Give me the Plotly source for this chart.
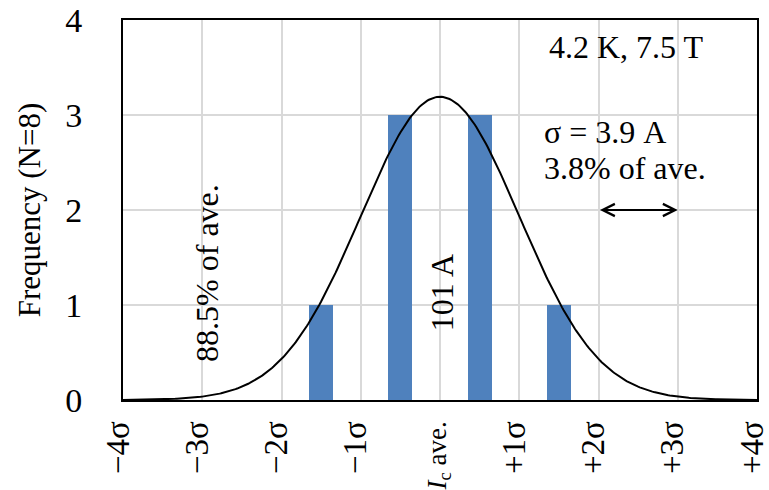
import numpy as np
import plotly.graph_objects as go

# Histogram of Ic, binned in units of sigma around the average
bin_centers = [-1.5, -0.5, 0.5, 1.5]
counts = [1, 3, 3, 1]
n_samples = 8
bin_width_sigma = 1.0

tick_vals = [-4, -3, -2, -1, 0, 1, 2, 3, 4]
tick_text = ["\u22124\u03c3", "\u22123\u03c3", "\u22122\u03c3", "\u22121\u03c3",
             "<span style='font-size:27px'><i>I</i><sub>c</sub> ave.</span>",
             "+1\u03c3", "+2\u03c3", "+3\u03c3", "+4\u03c3"]

# Fitted normal distribution (mean 0, sd 1 in sigma units), scaled to counts
x_fit = np.linspace(-4, 4, 401)
y_fit = n_samples * bin_width_sigma / np.sqrt(2 * np.pi) * np.exp(-0.5 * x_fit ** 2)

FONT = "Liberation Serif, Times New Roman, serif"
BLUE = "#4F81BD"

fig = go.Figure()
fig.add_trace(go.Bar(x=bin_centers, y=counts, width=0.3, marker_color=BLUE,
                     marker_line_width=0, showlegend=False))
fig.add_trace(go.Scatter(x=x_fit, y=y_fit, mode="lines",
                         line=dict(color="black", width=2), showlegend=False))

ann_font = dict(family=FONT, size=32, color="black")
annotations = [
    dict(x=1.35, y=3.72, text="4.2 K, 7.5 T", xanchor="left", yanchor="middle",
         showarrow=False, font=ann_font),
    dict(x=1.29, y=2.82, text="\u03c3 = 3.9 A", xanchor="left", yanchor="middle",
         showarrow=False, font=ann_font),
    dict(x=1.29, y=2.44, text="3.8% of ave.", xanchor="left", yanchor="middle",
         showarrow=False, font=ann_font),
    dict(x=-2.95, y=1.34, text="88.5% of ave.", textangle=-90, showarrow=False,
         font=ann_font),
    dict(x=0.02, y=1.13, text="101 A", textangle=-90, showarrow=False, font=ann_font),
    # one-sigma width marker
    dict(x=3, y=2, ax=2, ay=2, xref="x", yref="y", axref="x", ayref="y", text="",
         showarrow=True, arrowside="end+start", arrowhead=5, startarrowhead=5,
         arrowsize=1.2, startarrowsize=1.2, arrowwidth=2, arrowcolor="black",
         standoff=0, startstandoff=0),
]

fig.update_layout(
    width=769, height=490,
    margin=dict(l=123, r=12, t=20, b=90),
    paper_bgcolor="white", plot_bgcolor="white",
    font=dict(family=FONT, color="black"),
    bargap=0,
    annotations=annotations,
)
fig.update_xaxes(
    range=[-4.0001, 4.0001], tickmode="array", tickvals=tick_vals, ticktext=tick_text,
    tickangle=-90, tickfont=dict(family=FONT, size=33, color="black"),
    showgrid=True, gridcolor="#d9d9d9", gridwidth=1.5,
    showline=True, linecolor="black", linewidth=2, mirror=True,
    zeroline=False, ticks="", ticklabelstandoff=6, automargin=False,
    ticklabeloverflow="allow", ticklabelshift=-5,
)
fig.update_yaxes(
    range=[0, 4], tickvals=[0, 1, 2, 3, 4],
    tickfont=dict(family=FONT, size=34, color="black"),
    showgrid=True, gridcolor="#d9d9d9", gridwidth=1.5,
    showline=True, linecolor="black", linewidth=2, mirror=True,
    zeroline=False, ticks="", ticklabelstandoff=32, automargin=False,
    title=dict(text="Frequency (N=8)", font=dict(family=FONT, size=31, color="black"),
               standoff=15),
)

fig.write_html("out.html")
